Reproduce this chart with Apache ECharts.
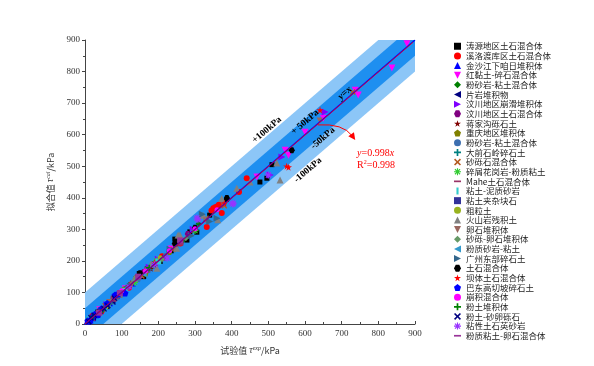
<!DOCTYPE html>
<html><head><meta charset="utf-8">
<script src="https://cdn.jsdelivr.net/npm/echarts@6/dist/echarts.min.js"></script>
<style>html,body{margin:0;padding:0;background:#fff}#c{width:594px;height:366px}</style>
</head><body><div id="c"></div><script>
// ---- axis ----
const axisMin = 0, axisMax = 900, axisStep = 100;
// ---- bands (data coords) ----
const band100 = [[0,0],[0,100],[800,900],[900,900],[900,800],[100,0]];
const band50  = [[0,0],[0,50],[850,900],[900,900],[900,850],[50,0]];
const lineYX  = [[0,0],[900,900]];
const lineFit = [[0,0],[895,893.2]];
// ---- series names ----
const seriesNames = ['涛源地区土石混合体','溪洛渡库区土石混合体','金沙江下咱日堆积体','红黏土-碎石混合体','粉砂岩-粘土混合体','片岩堆积物','汶川地区崩滑堆积体','汶川地区土石混合体','蒋家沟砾石土','重庆地区堆积体','粉砂岩-粘土混合体 ','大前石岭碎石土','砂砾石混合体','碎屑花岗岩-粉质粘土','Mahe土石混合体','粘土-泥质砂岩','粘土夹杂块石','粗粒土','火山岩残积土','卵石堆积体','砂砾-卵石堆积体','粉质砂岩-粘土','广州东部碎石土','土石混合体','坝体土石混合体','巴东高切坡碎石土','崩积混合体','粉土堆积体','粉土-砂卵砾石','粘性土石英砂岩','粉质粘土-卵石混合体'];
// ---- series values [test, fitted] ----
const s01 = [[12,10],[35,38],[60,55],[95,98],[148,160],[152,158],[170,175],[205,198],[245,269],[278,266],[286,292],[305,291],[340,345],[477,450],[496,462],[510,505],[160,150],[235,232]];
const s02 = [[20,25],[45,40],[120,115],[210,215],[260,255],[332,307],[350,367],[355,370],[360,372],[373,352],[441,462],[420,418],[345,360],[365,378]];
const s03 = [[5,8],[15,12],[30,28],[55,60],[80,85],[130,128],[175,180],[10,14],[22,18],[42,38],[68,66]];
const s04 = [[40,45],[110,112],[235,238],[469,466],[546,551],[555,535],[600,608],[737,741],[745,726],[837,811],[878,888],[650,652]];
const s05 = [[25,22],[70,68],[140,150],[190,185],[265,262],[310,318]];
const s06 = [[8,6],[22,20],[48,52],[75,70],[100,98],[14,16],[34,30],[58,62]];
const s07 = [[60,62],[150,148],[200,205],[295,300],[505,472],[537,529],[655,672],[175,180]];
const s08 = [[18,20],[90,88],[160,165],[215,210],[280,285]];
const s09 = [[30,33],[65,60],[125,130],[180,175],[250,252]];
const s10 = [[50,48],[105,110],[165,160],[230,228]];
const s11 = [[12,14],[38,40],[85,80],[145,140],[220,218]];
const s12 = [[28,30],[72,76],[115,118],[185,190]];
const s13 = [[20,18],[55,58],[95,92],[155,152],[240,236],[330,335],[380,375],[730,735]];
const s14 = [[10,12],[42,45],[88,90],[135,132],[195,200],[300,296]];
const s15 = [[35,32],[78,80],[170,172],[260,258]];
const s16 = [[15,17],[62,65],[108,105],[200,198]];
const s17 = [[5,5],[18,16],[32,35],[50,50],[70,72]];
const s18 = [[24,27],[58,55],[102,100],[148,152],[205,210]];
const s19 = [[40,38],[135,145],[196,177],[254,282],[259,282],[322,345],[362,330],[373,398],[414,430],[450,450],[523,510],[532,456],[250,240],[180,190]];
const s20 = [[30,28],[66,70],[128,125],[245,243],[330,328],[640,645]];
const s21 = [[45,42],[98,100],[140,145],[210,205],[275,272]];
const s22 = [[12,10],[52,50],[92,95],[160,158]];
const s23 = [[70,65],[175,172],[232,237],[290,280],[320,348],[340,325],[360,335]];
const s24 = [[150,161],[245,255],[387,396],[387,399],[564,551],[300,305]];
const s25 = [[85,90],[190,195],[555,497],[550,500],[641,678],[380,383]];
const s26 = [[8,10],[20,22],[35,30],[82,92],[109,98],[45,48],[60,65],[14,10],[26,30],[90,95]];
const s27 = [[100,105],[165,168],[230,232],[300,302],[360,362]];
const s28 = [[22,24],[48,45],[118,120],[175,178]];
const s29 = [[10,8],[25,28],[40,40],[62,58],[80,82],[16,20],[52,48]];
const s30 = [[224,209],[305,336],[403,380],[308,330],[404,383],[190,188],[500,472],[120,118]];
const s31 = [[38,36],[95,98],[145,150],[260,265]];
const seriesData = [s01,s02,s03,s04,s05,s06,s07,s08,s09,s10,s11,s12,s13,s14,s15,s16,s17,s18,s19,s20,s21,s22,s23,s24,s25,s26,s27,s28,s29,s30,s31];

// ---- styles ----
const P = {
  star:'path://M50,0 L61,35 L98,35 L68,57 L79,91 L50,70 L21,91 L32,57 L2,35 L39,35 Z',
  hex:'path://M25,0 L75,0 L100,50 L75,100 L25,100 L0,50 Z',
  pent:'path://M50,0 L100,38 L81,100 L19,100 L0,38 Z',
  plus:'path://M38,0 H62 V38 H100 V62 H62 V100 H38 V62 H0 V38 H38 Z',
  cross:'path://M0,16 L16,0 L50,34 L84,0 L100,16 L66,50 L100,84 L84,100 L50,66 L16,100 L0,84 L34,50 Z',
  aster:'path://M42,0 H58 V30 L80,8 L92,20 L70,42 H100 V58 H70 L92,80 L80,92 L58,70 V100 H42 V70 L20,92 L8,80 L30,58 H0 V42 H30 L8,20 L20,8 L42,30 Z',
  down:'path://M0,0 L100,0 L50,100 Z',
  left:'path://M100,0 L100,100 L0,50 Z',
  right:'path://M0,0 L100,50 L0,100 Z',
  dash:'path://M0,38 H100 V62 H0 Z',
  vbar:'path://M35,0 H65 V100 H35 Z'
};
const styles = [
  ['rect','#000000',5],['circle','#ff0000',6],['triangle','#0000ff',6],[P.down,'#ff00ff',7],['diamond','#008000',6],
  [P.left,'#000080',6],[P.right,'#8000ff',7],[P.hex,'#800080',6],[P.star,'#800000',6],[P.pent,'#808000',6],
  ['circle','#3d6fb0',5],[P.plus,'#008080',6],[P.cross,'#b35a1f',6],[P.aster,'#33cc33',7],[P.dash,'#993366',6],
  [P.vbar,'#33cccc',6],['rect','#333399',4],['circle','#99b31f',5],['triangle','#808080',7],[P.down,'#99665e',6],
  ['diamond','#669966',6],[P.left,'#3399cc',6],[P.right,'#33668c',7],[P.hex,'#000000',6],[P.star,'#ff0000',7],
  [P.pent,'#0000ff',7],['circle','#ff00ff',5],[P.plus,'#008000',6],[P.cross,'#000080',6],[P.aster,'#9933ff',7],[P.dash,'#993399',6]
];

const chart = echarts.init(document.getElementById('c'), null, {renderer:'canvas'});
const serif = 'Liberation Serif, Times New Roman, serif';
const cjk = 'Noto Sans CJK SC';

function bandSeries(verts, color, z){
  return {type:'custom', silent:true, z:z, data:[0],
    renderItem:function(params, api){
      return {type:'polygon', shape:{points: verts.map(v=>api.coord(v))}, style:{fill:color}};
    }};
}

const series = [bandSeries(band100,'#8cc6f7',1), bandSeries(band50,'#1e8ff0',2)];
seriesData.forEach((d,i)=>{
  series.push({type:'scatter', name:seriesNames[i], data:d, symbol:styles[i][0], symbolSize:styles[i][2],
    itemStyle:{color:styles[i][1], opacity:1}, z:3});
});
series.push({type:'line', data:lineYX, symbol:'none', lineStyle:{color:'#0000ff', width:1.2}, z:5, silent:true});
series.push({type:'line', data:lineFit, symbol:'none', lineStyle:{color:'#ff0000', width:0.8}, z:6, silent:true});

const nameRich = {a:{fontFamily:cjk+','+serif,fontSize:9,color:'#333'},t:{fontFamily:serif,fontSize:9.5,fontStyle:'italic',color:'#333'},s:{fontFamily:serif,fontSize:6,fontStyle:'italic',color:'#333',verticalAlign:'top',padding:[0,0,5,0]}};
chart.setOption({
  animation:false,
  grid:{left:85, right:179, top:40, bottom:42},
  xAxis:{type:'value', min:axisMin, max:axisMax, interval:axisStep,
    name:'{a|试验值 }{t|τ}{s|exp}{a|/kPa}', nameLocation:'middle', nameGap:21,
    nameTextStyle:{rich:nameRich},
    axisLine:{lineStyle:{color:'#444', width:1}},
    axisTick:{inside:true, length:3, lineStyle:{color:'#444'}},
    minorTick:{show:true, splitNumber:2, length:2, lineStyle:{color:'#444'}},
    splitLine:{show:false},
    axisLabel:{fontFamily:serif, fontSize:9, color:'#333', margin:5}},
  yAxis:{type:'value', min:axisMin, max:axisMax, interval:axisStep,
    name:'{a|拟合值 }{t|τ}{s|cal}{a|/kPa}', nameLocation:'middle', nameGap:26,
    nameTextStyle:{rich:nameRich},
    axisLine:{show:true, lineStyle:{color:'#444', width:1}},
    axisTick:{show:true, length:3, lineStyle:{color:'#444'}},
    minorTick:{show:true, splitNumber:2, length:2, lineStyle:{color:'#444'}},
    splitLine:{show:false},
    axisLabel:{fontFamily:serif, fontSize:9, color:'#333', margin:5}},
  legend:{orient:'vertical', left:454, top:42, padding:0, itemWidth:7, itemHeight:7, itemGap:1.15,
    data:seriesNames, textStyle:{fontFamily:cjk+','+serif, fontSize:8.5, lineHeight:8, color:'#222'}},
  series:series
});

// ---- annotations (data coords) ----
const notes = [
  {t:'+100kPa', at:[496,615]},
  {t:'+ 50kPa', at:[600,640]},
  {t:'-50kPa', at:[649,589]},
  {t:'-100kPa', at:[608,488]}
];
const p0 = chart.convertToPixel({gridIndex:0},[0,0]);
const p1 = chart.convertToPixel({gridIndex:0},[900,900]);
const ang = Math.atan2(p0[1]-p1[1], p1[0]-p0[0]);
const g = [];
notes.forEach(n=>{
  const p = chart.convertToPixel({gridIndex:0}, n.at);
  g.push({type:'text', x:p[0], y:p[1], rotation:ang, z:20,
    style:{text:n.t, fill:'#000', font:'bold 9.5px '+serif, align:'center', verticalAlign:'middle'}});
});
const pyx = chart.convertToPixel({gridIndex:0},[709,732]);
g.push({type:'text', x:pyx[0], y:pyx[1], rotation:ang, z:20,
  style:{text:'y=x', fill:'#000', font:'italic bold 10px '+serif, align:'center', verticalAlign:'middle'}});
const a0 = chart.convertToPixel({gridIndex:0},[635,631]);
const ac = chart.convertToPixel({gridIndex:0},[704,636]);
const a1 = chart.convertToPixel({gridIndex:0},[729,596]);
g.push({type:'bezierCurve', z:20, shape:{x1:a0[0],y1:a0[1],cpx1:ac[0],cpy1:ac[1],x2:a1[0],y2:a1[1]}, style:{stroke:'#ff0000', lineWidth:1, fill:null}});
const dx=a1[0]-ac[0], dy=a1[1]-ac[1], L=Math.hypot(dx,dy), ux=dx/L, uy=dy/L;
const tip=[a1[0]+ux*5, a1[1]+uy*5];
g.push({type:'polygon', z:20, shape:{points:[tip,[a1[0]-ux*2-uy*3.5, a1[1]-uy*2+ux*3.5],[a1[0]-ux*2+uy*3.5, a1[1]-uy*2-ux*3.5]]}, style:{fill:'#ff0000'}});
const t1 = chart.convertToPixel({gridIndex:0},[742,542]);
const t2 = chart.convertToPixel({gridIndex:0},[742,504]);
g.push({type:'text', x:t1[0], y:t1[1], z:20, style:{text:'{i|y}{n|=0.998}{i|x}', align:'left', verticalAlign:'middle',
  rich:{i:{fontFamily:serif,fontSize:10,fontStyle:'italic',fill:'#ff0000'}, n:{fontFamily:serif,fontSize:10,fill:'#ff0000'}}}});
g.push({type:'text', x:t2[0], y:t2[1], z:20, style:{text:'{n|R}{s|2}{n|=0.998}', align:'left', verticalAlign:'middle',
  rich:{n:{fontFamily:serif,fontSize:10,fill:'#ff0000'}, s:{fontFamily:serif,fontSize:6,fill:'#ff0000',verticalAlign:'top',padding:[0,0,5,0]}}}});
chart.setOption({graphic:g});
</script></body></html>
